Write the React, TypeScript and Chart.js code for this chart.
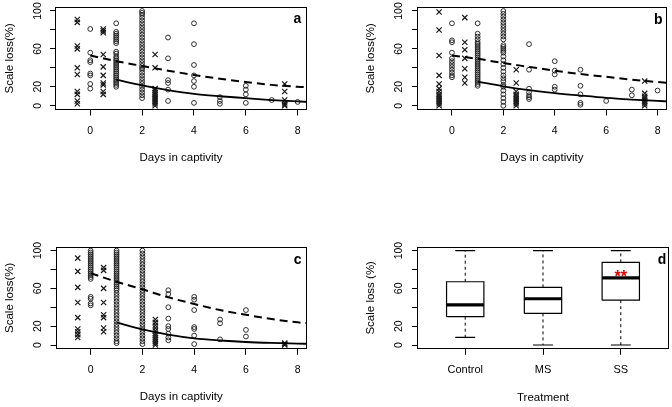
import React, { useEffect, useRef } from 'react';
import { Chart, registerables } from 'chart.js';
Chart.register(...registerables);

const FONT = '"Liberation Sans", Arial, Helvetica, sans-serif';

// ---------- shared axis data ----------
const xTicksDays = [0, 2, 4, 6, 8];
const yTicks = [0, 20, 40, 60, 80, 100];
const yTickLabels = ['0', '20', '', '60', '', '100'];
const circleDays = [0, 1, 2, 3, 4, 5, 6, 7, 8];
const crossDays = [-0.5, 0.5, 2.5, 7.5];
const curveDaysSolid = [1, 2, 3, 4, 5, 6, 7, 8, 8.4];
const curveDaysDashed = [0, 1, 2, 3, 4, 5, 6, 7, 8, 8.4];

// ---------- panel a ----------
const aCircles = [
  [81, 56, 48, 46, 34, 32, 23, 18],
  [87, 78, 76, 74, 72, 70, 68, 66, 57, 55, 52, 50, 48, 46, 44, 42, 40, 38, 36, 34, 32, 30, 28, 26, 24, 22, 20],
  [100, 98, 96, 93, 90, 87, 84, 81, 78, 75, 72, 69, 66, 63, 60, 57, 54, 51, 48, 45, 42, 40, 38, 35, 32, 29, 26, 23, 20, 17, 14, 11, 8],
  [72, 50, 27, 24, 17, 5],
  [87, 65, 43, 32, 26, 20, 3],
  [9, 5, 2],
  [21, 17, 12, 3],
  [6],
  [4],
];
const aCrosses = [
  [91, 88, 63, 60, 40, 33, 15, 12, 5, 2],
  [81, 79, 77, 54, 41, 32, 24, 22, 15, 12],
  [54, 40, 18, 16, 14, 12, 10, 8, 6, 4, 2, 0],
  [23, 15, 6, 3, 1, 0],
];
const aSolid = [27.5, 21.5, 16.5, 12.5, 10, 8, 6, 4.5, 4];
const aDashed = [53, 47, 42, 37, 32.5, 28.5, 25, 22, 20, 19.5];

// ---------- panel b ----------
const bCircles = [
  [87, 69, 67, 56, 50, 47, 44, 41, 38, 35, 32, 30],
  [87, 76, 73, 70, 67, 65, 63, 61, 59, 57, 55, 53, 51, 49, 47, 45, 43, 41, 39, 37, 35, 33, 31, 29, 27, 25, 23, 21],
  [100, 97, 94, 91, 88, 85, 82, 79, 76, 73, 70, 64, 62, 60, 58, 56, 52, 48, 44, 40, 36, 32, 29, 26, 22, 20, 16, 12, 8, 4, 0],
  [65, 38, 18, 14, 11, 9, 7],
  [47, 37, 33, 20, 17],
  [38, 21, 12, 3, 1],
  [5],
  [17, 11],
  [16],
];
const bCrosses = [
  [99, 80, 53, 32, 23, 18, 15, 12, 10, 8, 6, 4, 2, 0],
  [93, 67, 59, 50, 39, 30, 24],
  [38, 24, 15, 12, 10, 8, 6, 4, 2, 0],
  [26, 13, 10, 8, 6, 4, 2, 0],
];
const bSolid = [25.5, 20.5, 16.5, 13.3, 10.7, 8.3, 6.5, 5, 4.6];
const bDashed = [53, 49.5, 45, 41, 37, 33.5, 30.5, 27.5, 25, 24];

// ---------- panel c ----------
const cCircles = [
  [100, 98, 96, 94, 92, 90, 88, 86, 84, 82, 80, 78, 76, 74, 72, 70, 51, 49, 44, 42],
  [100, 98, 96, 94, 92, 90, 88, 86, 84, 82, 80, 78, 76, 74, 72, 70, 68, 66, 64, 62, 60, 58, 55, 52, 49, 46, 43, 40, 37, 34, 31, 28, 25, 22, 19, 16, 13, 10, 7, 4, 2],
  [100, 97, 94, 91, 88, 85, 82, 79, 76, 73, 70, 67, 64, 61, 58, 55, 52, 49, 46, 43, 40, 37, 34, 31, 28, 25, 22, 19, 16, 13, 10, 7, 4, 1],
  [58, 54, 40, 28, 20, 17, 12, 8, 5],
  [51, 48, 37, 19, 17, 10, 1],
  [27, 23, 6],
  [37, 16, 9],
  [],
  [],
];
const cCrosses = [
  [92, 78, 61, 45, 29, 17, 14, 11, 8],
  [82, 79, 60, 45, 32, 29, 18, 14],
  [27, 24, 21, 18, 15, 12, 10, 8, 6, 4, 2, 0],
  [2, 1, 0],
];
const cSolid = [24, 16.5, 11, 7, 4.8, 3.2, 2.2, 1.5, 1.3];
const cDashed = [76, 67, 59, 50.5, 43.5, 37, 32, 27.5, 24, 23];

// ---------- panel d (boxplot) ----------
const treatments = ['Control', 'MS', 'SS'];
const boxMin = [8, 0, 0];
const boxQ1 = [30, 33.5, 47.5];
const boxMedian = [42.5, 49, 71];
const boxQ3 = [67, 61, 87.5];
const boxMax = [100, 100, 100];
const starGroup = 3;
const starText = '**';

// ---------- helpers ----------
const annot = {
  id: 'annot',
  afterDatasetsDraw(chart: any, _a: any, o: any) {
    const { ctx, chartArea: ca } = chart;
    ctx.save();
    ctx.strokeStyle = '#000';
    ctx.lineWidth = 1;
    const l = Math.round(ca.left) + 0.5, t = Math.round(ca.top) + 0.5;
    const r = Math.round(ca.right) - 0.5, b = Math.round(ca.bottom) - 0.5;
    ctx.strokeRect(l, t, r - l, b - t);
    if (o && o.letter) {
      ctx.font = `bold 14px ${FONT}`;
      ctx.fillStyle = '#000';
      ctx.textAlign = 'center';
      ctx.textBaseline = 'middle';
      ctx.fillText(o.letter, ca.right - o.dx, ca.top + o.dy);
    }
    if (o && o.star) {
      const xs = chart.scales.x, ys = chart.scales.y;
      ctx.font = `bold 16px ${FONT}`;
      ctx.fillStyle = '#e60000';
      ctx.textAlign = 'center';
      ctx.textBaseline = 'middle';
      ctx.fillText(o.star.text, xs.getPixelForValue(o.star.x), ys.getPixelForValue(o.star.y));
    }
    ctx.restore();
  },
};

type Layout = {
  W: number; H: number; L: number; R: number; T: number; B: number;
  yTitleX: number; yTickX: number; xTitleY: number; xTickGap: number;
};

function baseScales(lay: Layout, xOpts: any, yTitle: string) {
  const tickFont = { family: FONT, size: 10.5 };
  const titleFont = { family: FONT, size: 11.5 };
  const titleHalf = 11.5 * 1.2 / 2;
  const tickHalf = 10.5 * 1.2 / 2;
  return {
    x: {
      type: 'linear',
      min: xOpts.min,
      max: xOpts.max,
      afterBuildTicks: (s: any) => { s.ticks = xOpts.ticks.map((v: number) => ({ value: v })); },
      afterFit: (s: any) => { s.height = lay.H - lay.B; s.paddingLeft = 0; s.paddingRight = 0; s.paddingTop = 0; s.paddingBottom = 0; },
      ticks: {
        autoSkip: false, maxRotation: 0, minRotation: 0, color: '#000',
        font: xOpts.font || tickFont,
        padding: lay.xTickGap - 6 - tickHalf,
        callback: xOpts.callback,
      },
      grid: { drawOnChartArea: false, drawTicks: true, tickLength: 6, color: '#000', lineWidth: 1 },
      border: { display: false },
      title: {
        display: true, text: xOpts.title, color: '#000', font: titleFont,
        padding: { top: 0, bottom: (lay.H - lay.xTitleY) - titleHalf },
      },
    },
    y: {
      type: 'linear',
      min: -4,
      max: 104,
      afterBuildTicks: (s: any) => { s.ticks = yTicks.map((v) => ({ value: v })); },
      afterFit: (s: any) => { s.width = lay.L; s.paddingTop = 0; s.paddingBottom = 0; s.paddingLeft = 0; s.paddingRight = 0; },
      ticks: {
        autoSkip: false, minRotation: 90, maxRotation: 90, crossAlign: 'center', color: '#000',
        font: tickFont,
        padding: lay.L - 5 - 8.76 - lay.yTickX,
        callback: (v: number) => { const i = yTicks.indexOf(v); return i >= 0 ? yTickLabels[i] : ''; },
      },
      grid: { drawOnChartArea: false, drawTicks: true, tickLength: 5, color: '#000', lineWidth: 1 },
      border: { display: false },
      title: {
        display: true, text: yTitle, color: '#000', font: titleFont,
        padding: { top: lay.yTitleX - titleHalf, bottom: 0 },
      },
    },
  };
}

function groupPoints(days: number[], groups: number[][]) {
  const pts: { x: number; y: number }[] = [];
  groups.forEach((g, i) => g.forEach((v) => pts.push({ x: days[i], y: v })));
  return pts;
}

function curve(days: number[], vals: number[]) {
  return vals.map((v, i) => ({ x: days[i], y: v }));
}

function scatterConfig(p: any) {
  const lay: Layout = p.lay;
  return {
    type: 'scatter',
    data: {
      datasets: [
        {
          data: curve(curveDaysSolid, p.solid), showLine: true, borderColor: '#000', borderWidth: 1.8,
          pointRadius: 0, cubicInterpolationMode: 'monotone', clip: 0, fill: false,
        },
        {
          data: curve(curveDaysDashed, p.dashed), showLine: true, borderColor: '#000', borderWidth: 2,
          borderDash: [8, 5], pointRadius: 0, cubicInterpolationMode: 'monotone', clip: 0, fill: false,
        },
        {
          data: groupPoints(circleDays, p.circles), pointStyle: 'circle', pointRadius: 2.4,
          pointBorderWidth: 0.9, pointBorderColor: '#1a1a1a', pointBackgroundColor: 'rgba(0,0,0,0)',
        },
        {
          data: groupPoints(crossDays, p.crosses), pointStyle: 'crossRot', pointRadius: 3.7,
          pointBorderWidth: 1.2, pointBorderColor: '#1a1a1a', pointBackgroundColor: 'rgba(0,0,0,0)',
        },
      ],
    },
    options: {
      animation: false, responsive: false, devicePixelRatio: 1,
      layout: { padding: { left: 0, top: lay.T, right: lay.W - lay.R, bottom: 0 } },
      plugins: {
        legend: { display: false }, tooltip: { enabled: false },
        annot: { letter: p.letter, dx: p.letterDx, dy: p.letterDy },
      },
      scales: baseScales(lay, { min: -1.36, max: 8.36, ticks: xTicksDays, title: 'Days in captivity', callback: (v: number) => String(v) }, 'Scale loss(%)'),
    },
    plugins: [annot],
  };
}

function boxConfig(lay: Layout) {
  const hw = 0.24, cw = 0.128;
  const ds: any[] = [];
  treatments.forEach((_, k) => {
    const i = k + 1;
    ds.push({ data: [{ x: i - hw, y: boxMedian[k] }, { x: i + hw, y: boxMedian[k] }], borderWidth: 3.2 });
    ds.push({
      data: [{ x: i - hw, y: boxQ1[k] }, { x: i + hw, y: boxQ1[k] }, { x: i + hw, y: boxQ3[k] }, { x: i - hw, y: boxQ3[k] }, { x: i - hw, y: boxQ1[k] }],
      borderWidth: 1.2,
    });
    ds.push({ data: [{ x: i, y: boxQ3[k] }, { x: i, y: boxMax[k] }], borderWidth: 1, borderDash: [3, 3] });
    ds.push({ data: [{ x: i, y: boxQ1[k] }, { x: i, y: boxMin[k] }], borderWidth: 1, borderDash: [3, 3] });
    ds.push({ data: [{ x: i - cw, y: boxMax[k] }, { x: i + cw, y: boxMax[k] }], borderWidth: 1.2 });
    ds.push({ data: [{ x: i - cw, y: boxMin[k] }, { x: i + cw, y: boxMin[k] }], borderWidth: 1.2 });
  });
  ds.forEach((d) => { d.showLine = true; d.borderColor = '#000'; d.pointRadius = 0; d.fill = false; d.tension = 0; d.borderJoinStyle = 'miter'; });
  return {
    type: 'scatter',
    data: { datasets: ds },
    options: {
      animation: false, responsive: false, devicePixelRatio: 1,
      layout: { padding: { left: 0, top: lay.T, right: lay.W - lay.R, bottom: 0 } },
      plugins: {
        legend: { display: false }, tooltip: { enabled: false },
        annot: { letter: 'd', dx: 7, dy: 13, star: { text: starText, x: starGroup, y: boxMedian[starGroup - 1] } },
      },
      scales: baseScales(lay, {
        min: 0.38, max: 3.62, ticks: [1, 2, 3], title: 'Treatment',
        font: { family: FONT, size: 11 },
        callback: (v: number) => treatments[v - 1] || '',
      }, 'Scale loss (%)'),
    },
    plugins: [annot],
  };
}

const layA: Layout = { W: 336, H: 200, L: 55, R: 307, T: 7.2, B: 109.5, yTitleX: 9.5, yTickX: 38, xTitleY: 157.5, xTickGap: 21.3 };
const layB: Layout = { W: 336, H: 200, L: 81, R: 332, T: 7.2, B: 109.5, yTitleX: 35, yTickX: 63, xTitleY: 157.5, xTickGap: 21.3 };
const layC: Layout = { W: 336, H: 207, L: 55.5, R: 307, T: 46.8, B: 148.8, yTitleX: 9.5, yTickX: 38.5, xTitleY: 197.3, xTickGap: 21.5 };
const layD: Layout = { W: 336, H: 207, L: 81, R: 333, T: 46.8, B: 148.8, yTitleX: 35, yTickX: 63, xTitleY: 197.5, xTickGap: 21.3 };

function Panel({ config, left, top, width, height }: any) {
  const ref = useRef<HTMLCanvasElement>(null);
  useEffect(() => {
    if (!ref.current) return;
    const chart = new Chart(ref.current, config);
    return () => chart.destroy();
  }, []);
  return (
    <canvas ref={ref} width={width} height={height}
      style={{ position: 'absolute', left, top, width, height }} />
  );
}

export default function App() {
  const cfgA = scatterConfig({ lay: layA, circles: aCircles, crosses: aCrosses, solid: aSolid, dashed: aDashed, letter: 'a', letterDx: 9.5, letterDy: 12.3 });
  const cfgB = scatterConfig({ lay: layB, circles: bCircles, crosses: bCrosses, solid: bSolid, dashed: bDashed, letter: 'b', letterDx: 8.5, letterDy: 13 });
  const cfgC = scatterConfig({ lay: layC, circles: cCircles, crosses: cCrosses, solid: cSolid, dashed: cDashed, letter: 'c', letterDx: 9.3, letterDy: 12.9 });
  const cfgD = boxConfig(layD);
  return (
    <div style={{ position: 'absolute', left: 0, top: 0, width: 672, height: 407, background: '#fff', overflow: 'hidden' }}>
      <Panel config={cfgA} left={0} top={0} width={336} height={200} />
      <Panel config={cfgB} left={336} top={0} width={336} height={200} />
      <Panel config={cfgC} left={0} top={200} width={336} height={207} />
      <Panel config={cfgD} left={336} top={200} width={336} height={207} />
    </div>
  );
}
